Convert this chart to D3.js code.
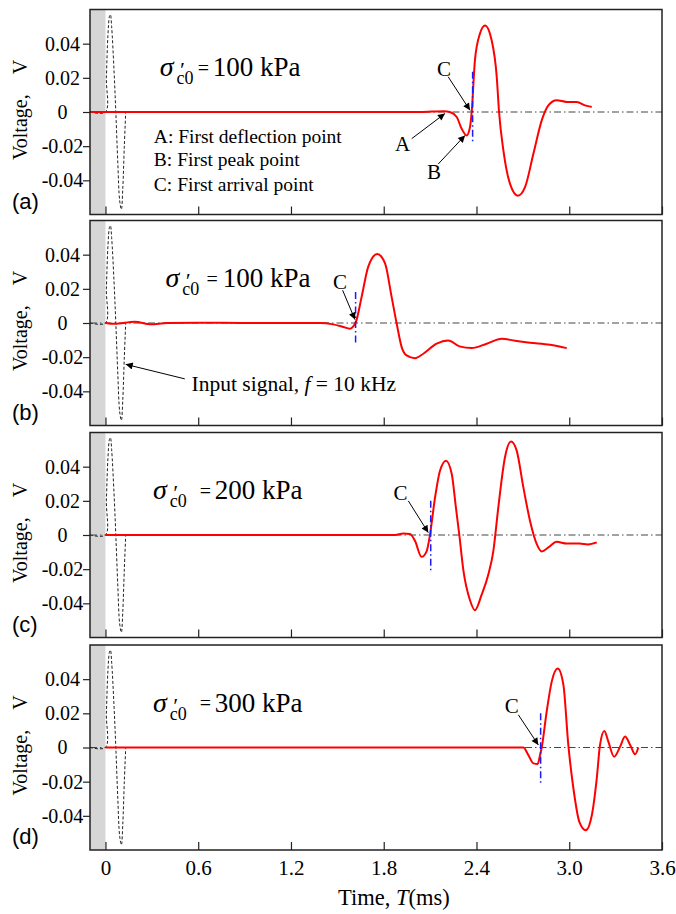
<!DOCTYPE html>
<html><head><meta charset="utf-8">
<script src="https://cdn.jsdelivr.net/npm/d3@7"></script>
<style>body{margin:0;background:#fff}svg{display:block}</style>
</head><body>
<svg id="c" width="676" height="914"></svg>
<script>
// ---------- data ----------
const xTickVals = [0, 0.6, 1.2, 1.8, 2.4, 3.0, 3.6];
const xTickLabels = ["0", "0.6", "1.2", "1.8", "2.4", "3.0", "3.6"];
const yTickVals = [-0.04, -0.02, 0, 0.02, 0.04];
const yTickLabels = ["-0.04", "-0.02", "0", "0.02", "0.04"];
const panelLetters = ["(a)", "(b)", "(c)", "(d)"];
const pressures = ["100", "100", "200", "300"];

// input signal (dashed), f = 10 kHz
const inputT = [-0.1, 0, 0.006, 0.016, 0.026, 0.032, 0.04, 0.055, 0.067, 0.08, 0.092, 0.103, 0.112, 0.122, 0.131];
const inputV = [0, 0, 0.02, 0.045, 0.056, 0.057, 0.05, 0.025, 0, -0.03, -0.052, -0.057, -0.045, -0.02, 0];

// received signals
const tA = [-0.1, 2.034, 2.19, 2.228, 2.272, 2.304, 2.337, 2.358, 2.369, 2.390, 2.423, 2.455, 2.498, 2.531, 2.546, 2.574, 2.617, 2.668, 2.714, 2.768, 2.822, 2.865, 2.919, 2.984, 3.049, 3.102, 3.146];
const vA = [0, 0, 0.0005, 0, -0.0029, -0.0098, -0.0137, -0.0088, 0, 0.0304, 0.046, 0.0506, 0.042, 0.0206, 0, -0.0225, -0.0421, -0.049, -0.044, -0.0245, -0.0049, 0.0039, 0.0069, 0.0059, 0.0059, 0.0039, 0.003];

const tB = [0, 0.06, 0.19, 0.29, 0.4, 0.6, 0.9, 1.258, 1.387, 1.473, 1.538, 1.581, 1.603, 1.620, 1.657, 1.700, 1.758, 1.808, 1.851, 1.883, 1.916, 1.948, 2.002, 2.056, 2.142, 2.218, 2.290, 2.369, 2.466, 2.563, 2.650, 2.746, 2.876, 2.984];
const vB = [0, -0.0005, 0.0008, -0.0008, 0, 0.0002, 0, 0, 0, -0.0008, -0.0023, -0.0033, -0.002, 0.0006, 0.0153, 0.033, 0.0404, 0.035, 0.0153, 0, -0.0141, -0.019, -0.0206, -0.018, -0.0121, -0.0102, -0.0137, -0.0147, -0.0121, -0.0092, -0.0104, -0.0115, -0.0127, -0.0147];

const tC = [0, 1.873, 1.926, 1.970, 2.002, 2.045, 2.078, 2.099, 2.132, 2.164, 2.203, 2.24, 2.267, 2.289, 2.315, 2.358, 2.390, 2.434, 2.477, 2.509, 2.541, 2.584, 2.623, 2.660, 2.703, 2.746, 2.790, 2.822, 2.865, 2.919, 2.984, 3.066, 3.12, 3.178];
const vC = [0, 0, 0.0009, 0.0006, -0.0034, -0.0128, -0.0094, 0, 0.022, 0.0376, 0.0435, 0.0357, 0.016, 0, -0.0206, -0.0382, -0.044, -0.0348, -0.023, -0.0094, 0.016, 0.0454, 0.0547, 0.0494, 0.028, 0.0084, -0.0053, -0.0096, -0.0073, -0.004, -0.005, -0.005, -0.0055, -0.0043];

const tD = [0, 2.703, 2.735, 2.768, 2.796, 2.811, 2.822, 2.854, 2.887, 2.926, 2.962, 2.994, 3.027, 3.066, 3.107, 3.146, 3.178, 3.199, 3.227, 3.253, 3.290, 3.329, 3.361, 3.394, 3.426, 3.447];
const vD = [0, 0, -0.0044, -0.0093, -0.0097, -0.0044, 0, 0.021, 0.0387, 0.0462, 0.0368, 0.0015, -0.024, -0.0437, -0.0485, -0.0397, -0.0181, 0.0015, 0.0097, 0.0034, -0.0054, 0.0005, 0.0064, 0.0015, -0.004, 0];

// first arrival markers (blue dash-dot)
const arrivalT = [2.375, 1.618, 2.104, 2.815];
const arrivalTop = [0.0235, 0.0182, 0.020, 0.0201];
const arrivalBottom = [-0.0185, -0.0131, -0.021, -0.0212];

// annotation "C" per panel: label (t,v), arrow from (t,v) to (t,v)
const cLabel = [[2.190, 0.0251], [1.517, 0.0241], [1.909, 0.0245], [2.628, 0.0244]];
const cArrowFrom = [[2.217, 0.0206], [1.534, 0.0192], [1.959, 0.020], [2.671, 0.0191]];
const cArrowTo = [[2.358, 0.001], [1.614, 0.002], [2.088, 0.0014], [2.800, 0.0015]];

const series = [[tA, vA], [tB, vB], [tC, vC], [tD, vD]];

// ---------- layout ----------
const svg = d3.select("#c");
const panelTop = [9.5, 220.5, 432.5, 645];
const PH = 205;
const L = 90, R = 662;
const serif = '"Liberation Serif","Times New Roman",Times,serif';
const sans = '"Liberation Sans",Arial,Helvetica,sans-serif';
const x = d3.scaleLinear().domain([-0.1, 3.6]).range([L, R]);

const defs = svg.append("defs");
defs.append("marker").attr("id", "arr").attr("viewBox", "0 0 10 10")
  .attr("refX", 10).attr("refY", 5).attr("markerWidth", 10).attr("markerHeight", 7)
  .attr("markerUnits", "userSpaceOnUse").attr("orient", "auto")
  .append("path").attr("d", "M0,0L10,5L0,10z").attr("fill", "#000");

function arrow(g, y, from, to) {
  g.append("line").attr("x1", x(from[0])).attr("y1", y(from[1]))
    .attr("x2", x(to[0])).attr("y2", y(to[1]))
    .attr("stroke", "#000").attr("stroke-width", 1).attr("marker-end", "url(#arr)");
}
function label(g, y, t, v, txt, size, anchor) {
  return g.append("text").attr("x", x(t)).attr("y", y(v)).style("font-family", serif)
    .attr("font-size", size).attr("text-anchor", anchor || "middle").attr("fill", "#000").text(txt);
}

series.forEach((s, i) => {
  const top = panelTop[i];
  const y = d3.scaleLinear().domain([-0.06, 0.06]).range([top + PH, top]);
  const g = svg.append("g");
  defs.append("clipPath").attr("id", "clip" + i).append("rect")
    .attr("x", L).attr("y", top).attr("width", R - L).attr("height", PH);

  // gray band before t=0
  g.append("rect").attr("x", x(-0.1)).attr("y", top).attr("width", x(0) - x(-0.1))
    .attr("height", PH).attr("fill", "#d6d6d6");

  // zero dash-dot line
  g.append("line").attr("x1", x(-0.1)).attr("x2", x(3.6)).attr("y1", y(0)).attr("y2", y(0))
    .attr("stroke", "#444").attr("stroke-width", 1).attr("stroke-dasharray", "7,3,1.5,3");

  const gc = g.append("g").attr("clip-path", "url(#clip" + i + ")");
  // input signal
  const inLine = d3.line().x(d => x(d[0])).y(d => y(d[1])).curve(d3.curveCatmullRom.alpha(0.5));
  gc.append("path").datum(inputT.map((t, k) => [t, inputV[k]])).attr("d", inLine)
    .attr("fill", "none").attr("stroke", "#222").attr("stroke-width", 1).attr("stroke-dasharray", "3,2");

  // received signal
  const sLine = d3.line().x(d => x(d[0])).y(d => y(d[1])).curve(d3.curveMonotoneX);
  gc.append("path").datum(s[0].map((t, k) => [t, s[1][k]])).attr("d", sLine)
    .attr("fill", "none").attr("stroke", "#ff0000").attr("stroke-width", 2).attr("stroke-linejoin", "round");

  // blue arrival marker
  g.append("line").attr("x1", x(arrivalT[i])).attr("x2", x(arrivalT[i]))
    .attr("y1", y(arrivalTop[i])).attr("y2", y(arrivalBottom[i]))
    .attr("stroke", "#1a1aff").attr("stroke-width", 1.5).attr("stroke-dasharray", "7,3,1.5,3");

  // frame
  g.append("rect").attr("x", L).attr("y", top).attr("width", R - L).attr("height", PH)
    .attr("fill", "none").attr("stroke", "#222").attr("stroke-width", 1.5);

  // y axis
  const ya = g.append("g").attr("transform", `translate(${L},0)`)
    .call(d3.axisLeft(y).tickValues(yTickVals).tickSize(7).tickFormat((d, j) => yTickLabels[j]));
  ya.select(".domain").remove();
  ya.selectAll("line").attr("stroke", "#222").attr("stroke-width", 1.2);
  ya.selectAll("text").attr("x", -27.5).attr("text-anchor", "middle")
    .style("font-family", serif).attr("font-size", 20).attr("fill", "#000");

  // x axis (inward ticks)
  const xa = g.append("g").attr("transform", `translate(0,${top + PH})`)
    .call(d3.axisBottom(x).tickValues(xTickVals).tickSize(-8).tickPadding(10)
      .tickFormat((d, j) => i === 3 ? xTickLabels[j] : ""));
  xa.select(".domain").remove();
  xa.selectAll("line").attr("stroke", "#222").attr("stroke-width", 1.2);
  xa.selectAll("text").style("font-family", serif).attr("font-size", 21).attr("fill", "#000");

  // y title
  svg.append("text").attr("transform", `translate(27,${y(0) - 2}) rotate(-90)`)
    .attr("text-anchor", "middle").style("font-family", serif).attr("font-size", 20)
    .style("white-space", "pre").text("Voltage,\u2003V");

  // panel letter
  svg.append("text").attr("x", 12).attr("y", top + PH - 6).style("font-family", sans)
    .attr("font-size", 22).text(panelLetters[i]);

  // sigma label: one text element with positioned tspans
  const sx = [0.351, 0.388, 0.308, 0.308][i];
  const eqOff = [38, 41, 46.7, 46.7][i];
  const valOff = [53, 57.3, 61.7, 61.7][i];
  const bx = x(sx), by = y(0.021);
  const st = svg.append("text").style("font-family", serif).attr("fill", "#000");
  st.append("tspan").attr("x", bx).attr("y", by).attr("font-size", 28).attr("font-style", "italic").text("σ");
  st.append("tspan").attr("x", bx + 19).attr("y", by + 1).attr("font-size", 22).attr("font-style", "italic").text("′");
  st.append("tspan").attr("x", bx + 16.7).attr("y", by + 8).attr("font-size", 18).text("c0");
  st.append("tspan").attr("x", bx + eqOff).attr("y", by - 1.5).attr("font-size", 20).text("=");
  st.append("tspan").attr("x", bx + valOff).attr("y", by).attr("font-size", 27).text(pressures[i] + " kPa");

  // C annotation
  label(g, y, cLabel[i][0], cLabel[i][1], "C", 21).attr("dy", "0.35em");
  arrow(g, y, cArrowFrom[i], cArrowTo[i]);

  if (i === 0) {
    label(g, y, 1.922, -0.0184, "A", 21).attr("dy", "0.35em");
    arrow(g, y, [1.981, -0.0156], [2.196, -0.0009]);
    label(g, y, 2.125, -0.0347, "B", 21).attr("dy", "0.35em");
    arrow(g, y, [2.153, -0.0304], [2.326, -0.0137]);
    label(g, y, 0.313, -0.0182, "A: First deflection point", 19.5, "start");
    label(g, y, 0.313, -0.0318, "B: First peak point", 19.5, "start");
    label(g, y, 0.313, -0.0460, "C: First arrival point", 19.5, "start");
  }
  if (i === 1) {
    arrow(g, y, [0.513, -0.0327], [0.131, -0.0242]);
    const tt = label(g, y, 0.557, -0.0355, "", 21.5, "start").attr("dy", "0.35em");
    tt.append("tspan").text("Input signal, ");
    tt.append("tspan").attr("font-style", "italic").text("f");
    tt.append("tspan").text(" = 10 kHz");
  }
});

// x title
const xt = svg.append("text").attr("x", 338).attr("y", 905).style("font-family", serif).attr("font-size", 22.5);
xt.append("tspan").text("Time, ");
xt.append("tspan").attr("font-style", "italic").text("T");
xt.append("tspan").text("(ms)");
</script>
</body></html>
